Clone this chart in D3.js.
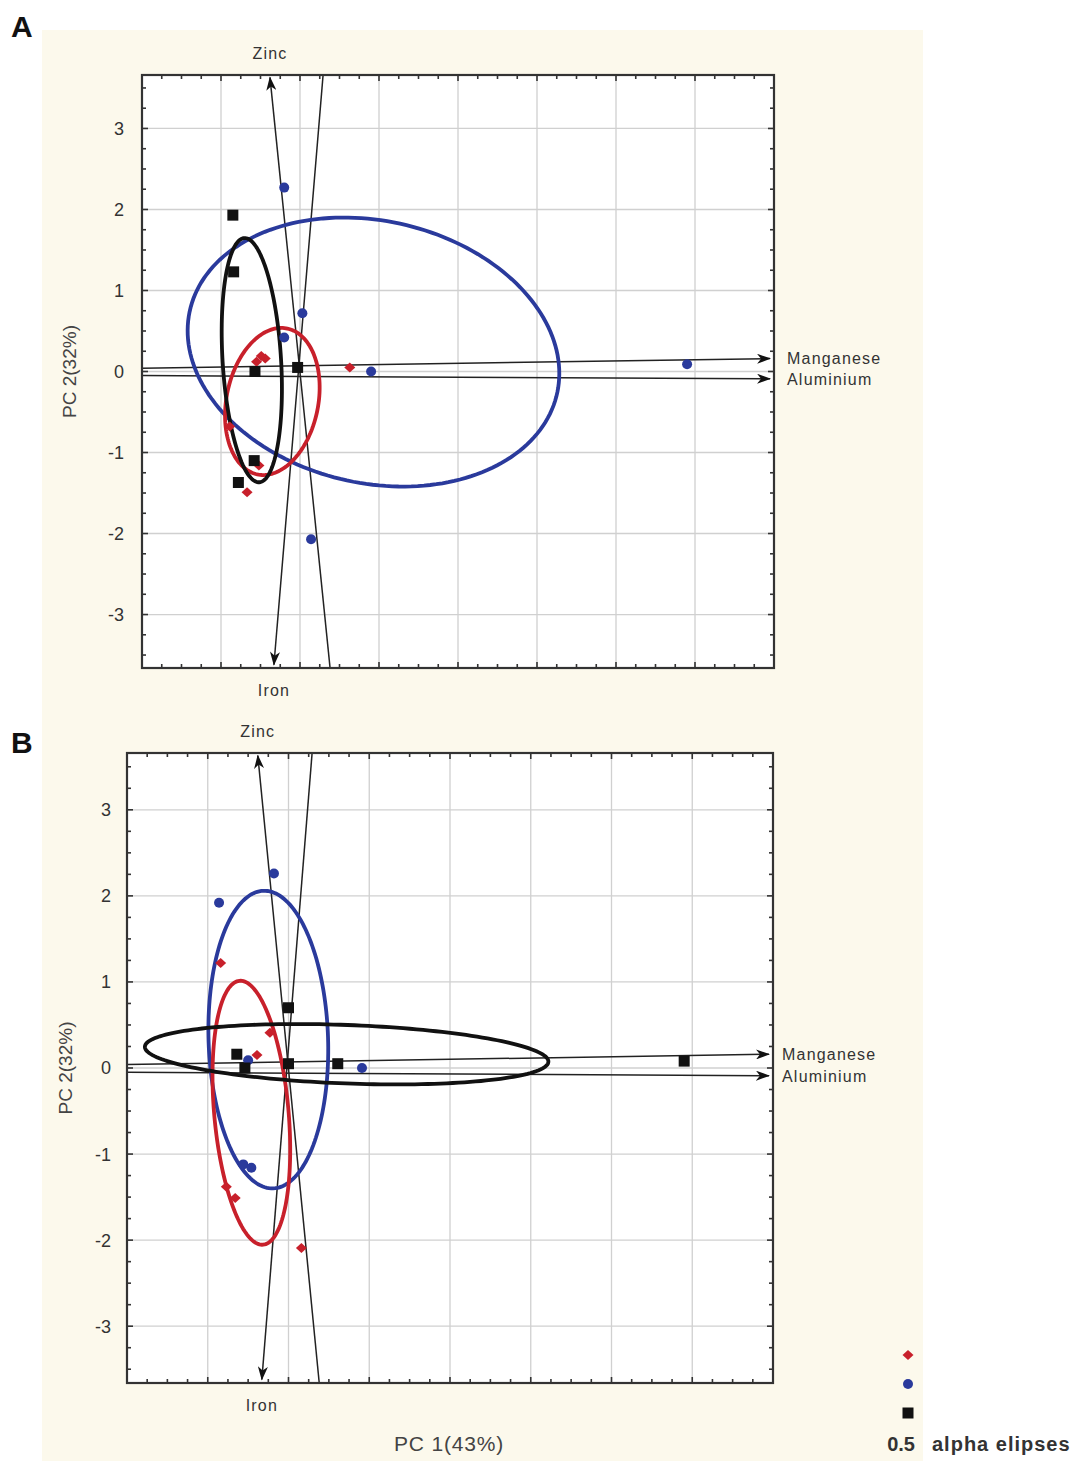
<!DOCTYPE html>
<html><head><meta charset="utf-8">
<script src="https://cdn.jsdelivr.net/npm/d3@7/dist/d3.min.js"></script>
<style>
body{margin:0;background:#fff;}
svg{display:block;font-family:"Liberation Sans",Arial,sans-serif;}
</style>
</head><body>
<svg id="chart" width="1079" height="1461"></svg>
<script>
// ---------- data ----------
const pc1Ticks = [-2,-1,0,1,2,3,4,5,6];
const pc2Ticks = [-3,-2,-1,0,1,2,3];
const pc2Labels = ["-3","-2","-1","0","1","2","3"];
const groupColors = ["#c8202b","#2a3a9c","#111111"];
const groupShapes = ["diamond","circle","square"];

const loadingNames = ["Zinc","Iron","Manganese","Aluminium"];
const loadingHeadX = [-0.38,-0.33,5.95,5.95];
const loadingHeadY = [3.63,-3.62,0.16,-0.09];
const loadingTailX = [0.39,0.30,-2.1,-2.1];
const loadingTailY = [-3.75,3.75,0.04,-0.05];

// panel A scores [PC1, PC2]
const scoresA_red   = [[-0.44,0.16],[-0.55,0.12],[-0.49,0.19],[0.63,0.05],[-0.52,-1.16],[-0.67,-1.49],[-0.89,-0.68]];
const scoresA_blue  = [[-0.20,2.27],[0.03,0.72],[-0.20,0.42],[0.90,0.00],[4.90,0.09],[0.14,-2.07]];
const scoresA_black = [[-0.85,1.93],[-0.84,1.23],[-0.57,0.00],[-0.03,0.05],[-0.58,-1.10],[-0.78,-1.37]];
// panel B scores
const scoresB_red   = [[-0.84,1.22],[-0.39,0.15],[-0.23,0.41],[-0.77,-1.38],[-0.66,-1.51],[0.16,-2.09]];
const scoresB_blue  = [[-0.18,2.26],[-0.86,1.92],[-0.50,0.09],[0.91,0.00],[-0.56,-1.12],[-0.46,-1.16]];
const scoresB_black = [[-0.64,0.16],[-0.54,0.00],[0.00,0.70],[0.00,0.05],[0.61,0.05],[4.90,0.08]];

// 0.5 alpha ellipses: [centre PC1, centre PC2, semi-axis a, semi-axis b, angle deg]
const ellipsesA = [[0.93,0.24,2.38,1.62,-12],[-0.35,-0.37,0.92,0.58,78],[-0.61,0.14,1.51,0.37,93.6]];
const ellipseGroupsA = [1,0,2];
const ellipsesB = [[-0.25,0.33,1.73,0.74,92],[-0.46,-0.52,1.54,0.46,95.5],[0.72,0.16,2.50,0.34,-2]];
const ellipseGroupsB = [1,0,2];

const legendNote = ["0.5","alpha elipses"];

// ---------- drawing ----------
const svg = d3.select("#chart");
svg.append("rect").attr("x",42).attr("y",30).attr("width",881).attr("height",1431).attr("fill","#fcf9ec");

const defs = svg.append("defs");
defs.append("marker").attr("id","arr").attr("viewBox","0 0 14 10")
  .attr("refX",13).attr("refY",5).attr("markerWidth",14).attr("markerHeight",10)
  .attr("markerUnits","userSpaceOnUse").attr("orient","auto")
  .append("path").attr("d","M0,0 L14,5 L0,10 L4,5 Z").attr("fill","#111");

function drawMarker(g, shape, color, x, y){
  if(shape==="circle"){
    g.append("circle").attr("cx",x).attr("cy",y).attr("r",5).attr("fill",color);
  } else if(shape==="diamond"){
    g.append("path").attr("d",`M${x},${y-5}L${x+5.5},${y}L${x},${y+5}L${x-5.5},${y}Z`).attr("fill",color);
  } else {
    g.append("path").attr("d",`M${x-5.5},${y-5.5}h11v11h-11Z`).attr("fill",color);
  }
}

function drawPanel(cfg){
  const {id,left,right,top,bottom,scores,ellipses,ellGroups,label,labelY,ytitleX,xtitle,tickLabelX,mnX} = cfg;
  const x = d3.scaleLinear().domain([-2,6]).range([left,right]);
  const y = d3.scaleLinear().domain([-3.66,3.66]).range([bottom,top]);
  const g = svg.append("g");
  g.append("rect").attr("x",left).attr("y",top).attr("width",right-left).attr("height",bottom-top).attr("fill","#fff");
  defs.append("clipPath").attr("id","clip"+id).append("rect")
    .attr("x",left).attr("y",top).attr("width",right-left).attr("height",bottom-top);

  // grid
  g.append("g").selectAll("line").data(pc1Ticks.slice(1,-1)).join("line")
    .attr("x1",d=>x(d)).attr("x2",d=>x(d)).attr("y1",top).attr("y2",bottom)
    .attr("stroke","#d0d0d0").attr("stroke-width",1.3);
  g.append("g").selectAll("line").data(pc2Ticks).join("line")
    .attr("y1",d=>y(d)).attr("y2",d=>y(d)).attr("x1",left).attr("x2",right)
    .attr("stroke","#d0d0d0").attr("stroke-width",1.3);

  // minor/major ticks (inward) on all sides
  const xMinor = d3.range(-2,6.001,0.25).filter(v=>v>-2&&v<6);
  const yMinor = d3.range(-3.5,3.501,0.25);
  const tk = g.append("g").attr("stroke","#333").attr("stroke-width",1.6);
  xMinor.forEach(v=>{
    const L = Number.isInteger(v)?6:4;
    tk.append("line").attr("x1",x(v)).attr("x2",x(v)).attr("y1",top).attr("y2",top+L);
    tk.append("line").attr("x1",x(v)).attr("x2",x(v)).attr("y1",bottom).attr("y2",bottom-L);
  });
  yMinor.forEach(v=>{
    const L = Number.isInteger(v)?6:4;
    tk.append("line").attr("y1",y(v)).attr("y2",y(v)).attr("x1",left).attr("x2",left+L);
    tk.append("line").attr("y1",y(v)).attr("y2",y(v)).attr("x1",right).attr("x2",right-L);
  });

  const plot = g.append("g").attr("clip-path",`url(#clip${id})`);
  // loading lines
  loadingNames.forEach((n,i)=>{
    plot.append("line")
      .attr("x1",x(loadingTailX[i])).attr("y1",y(loadingTailY[i]))
      .attr("x2",x(loadingHeadX[i])).attr("y2",y(loadingHeadY[i]))
      .attr("stroke","#222").attr("stroke-width",1.5).attr("marker-end","url(#arr)");
  });
  // ellipses
  const tt = d3.range(0,Math.PI*2,Math.PI/90);
  const line = d3.line().curve(d3.curveLinearClosed);
  ellipses.forEach((e,i)=>{
    const [cx,cy,a,b,ang] = e; const th = ang*Math.PI/180;
    const pts = tt.map(t=>[
      x(cx + a*Math.cos(t)*Math.cos(th) - b*Math.sin(t)*Math.sin(th)),
      y(cy + a*Math.cos(t)*Math.sin(th) + b*Math.sin(t)*Math.cos(th))]);
    plot.append("path").attr("d",line(pts)).attr("fill","none")
      .attr("stroke",groupColors[ellGroups[i]]).attr("stroke-width",3.8);
  });
  // points
  scores.forEach((arr,gi)=>{
    arr.forEach(p=>drawMarker(plot,groupShapes[gi],groupColors[gi],x(p[0]),y(p[1])));
  });

  // frame
  g.append("rect").attr("x",left).attr("y",top).attr("width",right-left).attr("height",bottom-top)
    .attr("fill","none").attr("stroke","#333").attr("stroke-width",2.2);

  // y tick labels
  g.append("g").selectAll("text").data(pc2Ticks).join("text")
    .attr("x",tickLabelX).attr("y",d=>y(d)).attr("dy","0.36em").attr("text-anchor","end")
    .attr("font-size",18).attr("fill","#333").text((d,i)=>pc2Labels[i]);

  // loading labels
  const lab = g.append("g").attr("font-size",16).attr("fill","#333").attr("letter-spacing",1.2);
  lab.append("text").attr("x",x(loadingHeadX[0])).attr("y",top-16).attr("text-anchor","middle").text(loadingNames[0]);
  lab.append("text").attr("x",x(loadingHeadX[1])).attr("y",bottom+28).attr("text-anchor","middle").text(loadingNames[1]);
  lab.append("text").attr("x",mnX).attr("y",y(loadingHeadY[2])).attr("dy","0.36em").text(loadingNames[2]);
  lab.append("text").attr("x",mnX).attr("y",y(loadingHeadY[3])).attr("dy","0.36em").text(loadingNames[3]);

  // y title
  g.append("text").attr("transform",`translate(${ytitleX},${y(0)}) rotate(-90)`)
    .attr("text-anchor","middle").attr("font-size",19).attr("fill","#444").text("PC 2(32%)");
  if(xtitle){
    g.append("text").attr("x",449).attr("y",1451).attr("text-anchor","middle")
      .attr("font-size",21).attr("fill","#444").attr("letter-spacing",0.8).text("PC 1(43%)");
  }
  // panel label
  svg.append("text").attr("x",11).attr("y",labelY).attr("font-size",30).attr("font-weight","bold")
    .attr("fill","#111").text(label);
}

drawPanel({id:"A",left:142,right:774,top:75,bottom:668,
  scores:[scoresA_red,scoresA_blue,scoresA_black],ellipses:ellipsesA,ellGroups:ellipseGroupsA,
  label:"A",labelY:37,ytitleX:76,xtitle:false,tickLabelX:124,mnX:787});
drawPanel({id:"B",left:127,right:773,top:753,bottom:1383,
  scores:[scoresB_red,scoresB_blue,scoresB_black],ellipses:ellipsesB,ellGroups:ellipseGroupsB,
  label:"B",labelY:753,ytitleX:72,xtitle:true,tickLabelX:111,mnX:782});

// legend
const lg = svg.append("g");
const legY = [1355,1384,1413];
groupShapes.forEach((s,i)=>drawMarker(lg,s,groupColors[i],908,legY[i]));
lg.append("text").attr("x",915).attr("y",1451).attr("text-anchor","end").attr("font-size",20)
  .attr("font-weight","bold").attr("fill","#333").text(legendNote[0]);
lg.append("text").attr("x",932).attr("y",1451).attr("font-size",20)
  .attr("font-weight","bold").attr("fill","#333").attr("letter-spacing",1).text(legendNote[1]);
</script>
</body></html>
